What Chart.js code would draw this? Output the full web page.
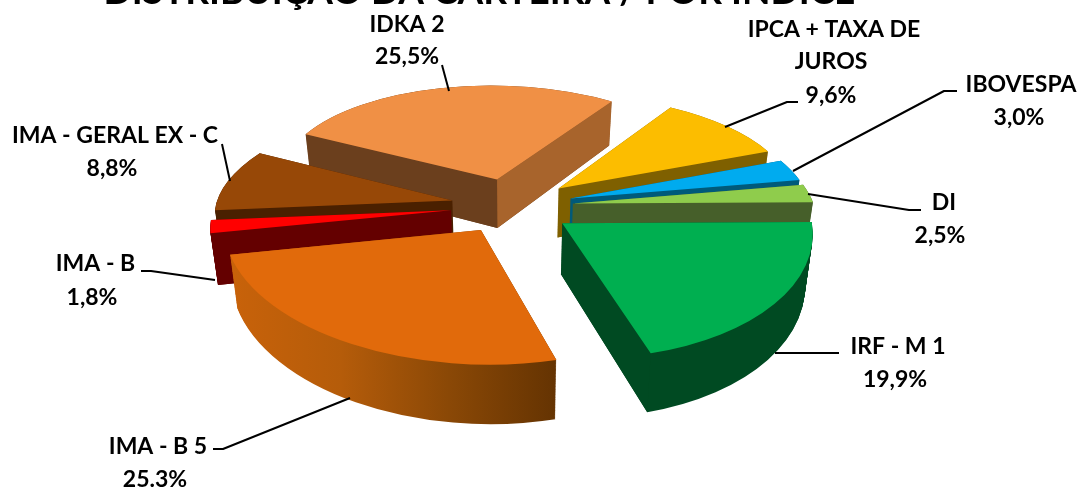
<!DOCTYPE html>
<html lang="pt">
<head>
<meta charset="utf-8">
<script src="https://cdn.jsdelivr.net/npm/chart.js@4"></script>
<style>html,body{margin:0;padding:0;background:#fff}#w{width:1077px;height:487px;overflow:hidden}</style>
</head>
<body>
<div id="w"><canvas id="c" width="1077" height="487"></canvas></div>
<script>
const categories = ['IPCA + TAXA DE JUROS','IBOVESPA','DI','IRF - M 1','IMA - B 5','IMA - B','IMA - GERAL EX - C','IDKA 2'];
const values = [9.6,3.0,2.5,19.9,25.3,1.8,8.8,25.5];
const valueLabels = ['9,6%','3,0%','2,5%','19,9%','25.3%','1,8%','8,8%','25,5%'];
const topColors = ['#FCBD00','#00ABEF','#8FCC4C','#00AF50','#E16A0B','#FF0000','#974807','#F09045'];
const titleText = 'DISTRIBUIÇÃO DA CARTEIRA / POR ÍNDICE';

// style tables
const nameLines = [['IPCA + TAXA DE','JUROS'],['IBOVESPA'],['DI'],['IRF - M 1'],['IMA - B 5'],['IMA - B'],['IMA - GERAL EX - C'],['IDKA 2']];
const rimColors = [['#7F6000'],['#005A7A'],['#465F2A'],['#004A22'],['#C8620A','#B55C0A','#8A4806','#643302'],['#640000'],['#4A2000'],['#6B3F1D']];
const startWallColors = [['#7F6000'],['#005A7A'],['#465F2A'],['#004A22'],['#004A22'],['#640000'],['#4A2000'],['#6B3F1D']];
const endWallColors = [['#7F6000'],['#005A7A'],['#465F2A'],['#004A22'],['#643302'],['#640000'],['#4A2000'],['#A8642C']];
const drawOrder = [7,0,1,2,6,5,3,4];
const view = {cx:512, cy:206, A:245, B:113, p:0.135, depth:50, converge:0.025};
const sliceExplode = [0.25,0.25,0.25,0.25,0.24,0.25,0.25,0.25];
const sliceRadius = [0.99,0.985,0.985,1,0.985,0.965,0.965,0.97];
const textAnchors = [[[834,30],[831,62],[831,96]],[[1021,85],[1019,118]],[[944,203],[940,236]],[[898,347],[895,380]],[[158,447],[155,480]],[[95.5,264],[92,298]],[[115,136],[112,169]],[[407,25],[407,57]]];
const leaders = [[[798,102],[787,102],[725,127]],[[957,91],[944,91],[793,171]],[[921,210],[909,210],[808,194]],[[839,353],[775,353]],[[213,449],[223,449],[350,398]],[[141,271],[151,271],[215,280]],[[222,144],[230,181]],[[442,65],[449,91]]];

function project(X,Y,z){
  const w = 1 - view.p*Y;
  return [view.cx + view.A*X/w*(1-view.converge*z), view.cy + view.B*Y/w + view.depth*z/w];
}
function sliceGeom(arc,i){
  const s = arc.startAngle, e = arc.endAngle, m = (s+e)/2;
  return {s,e,ox:sliceExplode[i]*Math.cos(m),oy:sliceExplode[i]*Math.sin(m),R:sliceRadius[i]};
}
function matrixFor(arc,g,z){
  const r = arc.outerRadius, x0 = arc.x, y0 = arc.y;
  const l = [[x0,y0],[x0+r*Math.cos(g.s),y0+r*Math.sin(g.s)],[x0+r*Math.cos(g.e),y0+r*Math.sin(g.e)]];
  const t = [project(g.ox,g.oy,z),project(g.ox+g.R*Math.cos(g.s),g.oy+g.R*Math.sin(g.s),z),project(g.ox+g.R*Math.cos(g.e),g.oy+g.R*Math.sin(g.e),z)];
  const ux=l[1][0]-l[0][0],uy=l[1][1]-l[0][1],vx=l[2][0]-l[0][0],vy=l[2][1]-l[0][1];
  const det=ux*vy-uy*vx;
  const px=t[1][0]-t[0][0],py=t[1][1]-t[0][1],qx=t[2][0]-t[0][0],qy=t[2][1]-t[0][1];
  const a=(px*vy-qx*uy)/det, c=(qx*ux-px*vx)/det, b=(py*vy-qy*uy)/det, d=(qy*ux-py*vx)/det;
  return [a,b,c,d,t[0][0]-a*x0-c*y0,t[0][1]-b*x0-d*y0];
}
function drawArc(ctx,arc,color,m){
  ctx.save();
  ctx.setTransform(m[0],m[1],m[2],m[3],m[4],m[5]);
  const proxy = Object.create(arc);
  proxy.options = Object.assign({},arc.options,{backgroundColor:color,borderWidth:0,borderColor:color,offset:0});
  arc.draw.call(proxy,ctx);
  ctx.restore();
}
function hGradient(ctx,stops,x0,x1){
  if(stops.length===1) return stops[0];
  const g=ctx.createLinearGradient(x0,0,x1,0);
  stops.forEach((c,i)=>g.addColorStop(i/(stops.length-1),c));
  return g;
}
function drawWall(ctx,arc,g,angle,stops){
  const ex=g.ox+g.R*Math.cos(angle), ey=g.oy+g.R*Math.sin(angle);
  const a=project(g.ox,g.oy,0), b=project(ex,ey,0);
  const mid=(g.s+g.e)/2, mp=project(g.ox+0.6*Math.cos(mid),g.oy+0.6*Math.sin(mid),0);
  const side=(p)=>(b[0]-a[0])*(p[1]-a[1])-(b[1]-a[1])*(p[0]-a[0]);
  const below=side([(a[0]+b[0])/2,(a[1]+b[1])/2+5]);
  if(below*side(mp)>0) return;
  const a2=project(g.ox,g.oy,1), b2=project(ex,ey,1);
  ctx.fillStyle=hGradient(ctx,stops,Math.min(a[0],b[0]),Math.max(a[0],b[0]));
  ctx.beginPath();ctx.moveTo(a[0],a[1]);ctx.lineTo(b[0],b[1]);ctx.lineTo(b2[0],b2[1]);ctx.lineTo(a2[0],a2[1]);ctx.closePath();ctx.fill();
}
const pie3d = {
  id:'pie3d',
  beforeDatasetDraw(chart,args){
    const ctx=chart.ctx, arcs=chart.getDatasetMeta(args.index).data;
    const W=chart.width,H=chart.height;
    drawOrder.forEach(i=>{
      const arc=arcs[i], g=sliceGeom(arc,i);
      const off=document.createElement('canvas');off.width=W;off.height=H;
      const oc=off.getContext('2d');
      const n=Math.ceil(view.depth*1.3);
      for(let k=n;k>=0;k--){drawArc(oc,arc,'#000',matrixFor(arc,g,k/n));}
      oc.globalCompositeOperation='source-in';
      oc.setTransform(1,0,0,1,0,0);
      oc.fillStyle=hGradient(oc,rimColors[i],232,558);
      oc.fillRect(0,0,W,H);
      ctx.drawImage(off,0,0);
      drawWall(ctx,arc,g,g.s,startWallColors[i]);
      drawWall(ctx,arc,g,g.e,endWallColors[i]);
      drawArc(ctx,arc,topColors[i],matrixFor(arc,g,0));
    });
    return false;
  },
  afterDraw(chart){
    const ctx=chart.ctx;
    ctx.save();
    ctx.strokeStyle='#000';ctx.lineWidth=2;ctx.lineJoin='round';
    leaders.forEach(pts=>{ctx.beginPath();pts.forEach((p,i)=>i?ctx.lineTo(p[0],p[1]):ctx.moveTo(p[0],p[1]));ctx.stroke();});
    ctx.fillStyle='#000';ctx.textAlign='center';ctx.textBaseline='middle';
    ctx.font='bold 23px Lato, sans-serif';
    categories.forEach((c,i)=>{
      const lines=nameLines[i].concat([valueLabels[i]]);
      lines.forEach((t,j)=>ctx.fillText(t,textAnchors[i][j][0],textAnchors[i][j][1]));
    });
    ctx.restore();
  }
};
new Chart(document.getElementById('c'),{
  type:'pie',
  data:{labels:categories,datasets:[{data:values,backgroundColor:topColors,borderWidth:0}]},
  options:{
    responsive:false,animation:false,events:[],rotation:33,
    layout:{padding:{right:118}},
    plugins:{
      legend:{display:false},tooltip:{enabled:false},
      title:{display:true,text:titleText,color:'#000',align:'center',padding:{top:-30,bottom:0},font:{family:'Lato, sans-serif',weight:'bold',size:37}}
    }
  },
  plugins:[pie3d]
});
</script>
</body>
</html>
